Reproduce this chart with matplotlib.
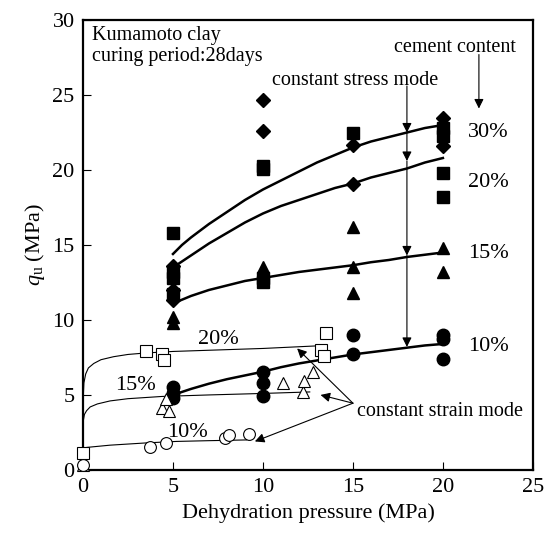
import numpy as np
import matplotlib.pyplot as plt

plt.rcParams['font.family'] = ['Liberation Serif', 'DejaVu Serif']
plt.rcParams['mathtext.fontset'] = 'custom'
plt.rcParams['mathtext.rm'] = 'Liberation Serif'
plt.rcParams['mathtext.it'] = 'Liberation Serif:italic'

# constant stress mode (filled markers)
ss10_x = [5, 5, 5, 10, 10, 10, 15, 15, 20, 20, 20]
ss10_y = [5.5, 5.1, 4.8, 6.5, 5.8, 4.9, 9.0, 7.7, 9.0, 8.7, 7.4]
ss15_x = [5, 5, 10, 10, 15, 15, 15, 20, 20]
ss15_y = [10.2, 9.8, 13.5, 13.1, 16.2, 13.5, 11.8, 14.8, 13.2]
ss20_x = [5, 5, 5, 5, 10, 10, 10, 10, 15, 20, 20, 20, 20]
ss20_y = [15.8, 13.2, 12.8, 11.7, 20.3, 20.1, 12.8, 12.5, 22.5, 22.8, 22.3, 19.8, 18.2]
ss30_x = [5, 5, 5, 10, 10, 15, 15, 20, 20]
ss30_y = [13.6, 12.0, 11.3, 24.7, 22.6, 21.7, 19.1, 23.5, 21.6]

# constant strain mode (open markers)
sn10_x = [0, 3.7, 4.6, 7.9, 8.1, 9.2]
sn10_y = [0.3, 1.5, 1.8, 2.1, 2.3, 2.4]
sn15_x = [0, 4.4, 4.6, 4.8, 11.1, 12.2, 12.3, 12.8]
sn15_y = [0.3, 4.1, 4.7, 3.9, 5.8, 5.2, 5.9, 6.5]
sn20_x = [0, 3.5, 4.4, 4.5, 13.2, 13.4, 13.5]
sn20_y = [1.1, 7.9, 7.7, 7.3, 8.0, 7.6, 9.1]

# trend curves
fit_x = [5, 5.5, 6, 7, 8, 9, 10, 11, 12, 13, 14, 15, 16, 17, 18, 19, 20]
fit30_y = [14.4, 15.0, 15.5, 16.4, 17.2, 18.0, 18.7, 19.3, 19.9, 20.5, 21.0, 21.5, 21.9, 22.2, 22.5, 22.8, 23.0]
fit20_y = [13.5, 13.9, 14.3, 15.1, 15.8, 16.5, 17.1, 17.6, 18.0, 18.4, 18.8, 19.1, 19.5, 19.8, 20.1, 20.5, 20.8]
fit15_y = [11.1, 11.35, 11.6, 12.0, 12.3, 12.6, 12.8, 13.0, 13.2, 13.35, 13.5, 13.65, 13.85, 14.0, 14.2, 14.35, 14.5]
fit10_y = [5.0, 5.2, 5.4, 5.75, 6.05, 6.3, 6.55, 6.85, 7.1, 7.3, 7.5, 7.7, 7.85, 8.0, 8.15, 8.3, 8.4]

thin20_x = [0.02, 0.05, 0.15, 0.3, 0.6, 1.0, 1.7, 2.5, 3.5, 5, 7.5, 10, 13.5]
thin20_y = [5.0, 5.8, 6.4, 6.8, 7.1, 7.35, 7.55, 7.7, 7.8, 7.9, 8.0, 8.1, 8.3]
thin15_x = [0.02, 0.08, 0.2, 0.4, 0.8, 1.5, 2.5, 4.4, 7, 10, 12.6]
thin15_y = [3.3, 3.7, 3.95, 4.2, 4.4, 4.6, 4.75, 4.9, 5.0, 5.1, 5.2]
thin10_x = [0.1, 0.2, 1.5, 3.5, 5.2, 7.0, 9.1]
thin10_y = [1.4, 1.5, 1.65, 1.8, 1.9, 1.95, 2.0]

fig = plt.figure(figsize=(5.46, 5.42), dpi=100)
ax = fig.add_axes([0.152, 0.133, 0.824, 0.830])

# curves
for yy in [fit30_y, fit20_y, fit15_y, fit10_y]:
    ax.plot(fit_x, yy, 'k-', lw=1.8, solid_joinstyle='round')
for xx, yy in [(thin20_x, thin20_y), (thin15_x, thin15_y), (thin10_x, thin10_y)]:
    ax.plot(xx, yy, 'k-', lw=0.8)

# points
ax.plot(ss30_x, ss30_y, 'kD', ms=7, zorder=3)
ax.plot(ss20_x, ss20_y, 'ks', ms=8.5, zorder=3)
ax.plot(ss15_x, ss15_y, 'k^', ms=8.5, zorder=3)
ax.plot(ss10_x, ss10_y, 'ko', ms=9, zorder=3)
ax.plot(sn20_x, sn20_y, 's', ms=8, mfc='white', mec='k', mew=0.8, clip_on=False, zorder=4)
ax.plot(sn15_x, sn15_y, '^', ms=8.5, mfc='white', mec='k', mew=0.8, clip_on=False, zorder=4)
ax.plot(sn10_x, sn10_y, 'o', ms=8.5, mfc='white', mec='k', mew=0.8, clip_on=False, zorder=4)

# texts
fs = 14.5
ax.text(0.5, 29.6, 'Kumamoto clay', fontsize=fs, va='top')
ax.text(0.5, 28.2, 'curing period:28days', fontsize=fs, va='top')
ax.text(17.3, 28.8, 'cement content', fontsize=fs, va='top')
ax.text(10.5, 26.6, 'constant stress mode', fontsize=fs, va='top')
ax.text(15.2, 3.9, 'constant strain mode', fontsize=fs, va='center')
for lab, yy in [('30%', 22.5), ('20%', 19.2), ('15%', 14.4), ('10%', 8.2)]:
    ax.text(21.4, yy, lab, fontsize=16, va='center')
ax.text(7.5, 8.7, '20%', fontsize=16, ha='center', va='center')
ax.text(2.9, 5.6, '15%', fontsize=16, ha='center', va='center')
ax.text(5.8, 2.5, '10%', fontsize=16, ha='center', va='center')

# arrows
aprops = dict(arrowstyle='-|>', color='k', lw=0.8, mutation_scale=14, shrinkA=0, shrinkB=0)
ax.annotate('', xy=(22.0, 24.1), xytext=(22.0, 27.7), arrowprops=aprops)
stops = [25.6, 22.5, 20.6, 14.3, 8.2]
for i in range(len(stops) - 1):
    ax.annotate('', xy=(18, stops[i + 1]), xytext=(18, stops[i]), arrowprops=aprops)
for tip in [(11.9, 8.1), (13.2, 5.0), (9.55, 1.9)]:
    ax.annotate('', xy=tip, xytext=(15.0, 4.45), arrowprops=aprops)

ax.set_xlim(0, 25)
ax.set_ylim(0, 30)
ax.set_xticks([0, 5, 10, 15, 20, 25])
ax.set_yticks([0, 5, 10, 15, 20, 25, 30])
ax.tick_params(direction='in', length=6, width=0.8, labelsize=16, pad=6)
for s in ax.spines.values():
    s.set_linewidth(1.6)
ax.set_xlabel('Dehydration pressure (MPa)', fontsize=16)
ax.set_ylabel(r'$q_{\mathrm{u}}$ (MPa)', fontsize=16, labelpad=4)

fig.savefig('out.png', dpi=100)
